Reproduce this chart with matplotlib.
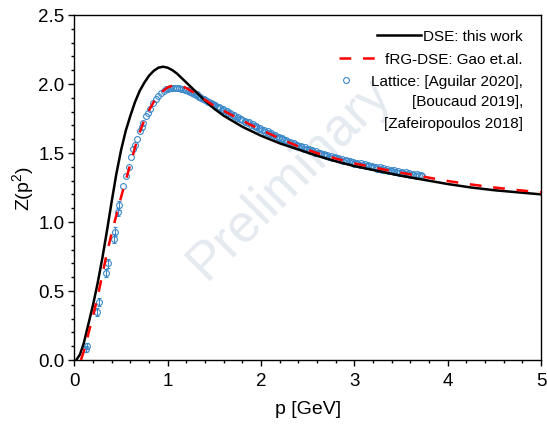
import matplotlib
matplotlib.use('Agg')
import matplotlib.pyplot as plt

plt.rcParams['font.family'] = ['Liberation Sans', 'DejaVu Sans']
plt.rcParams['mathtext.default'] = 'regular'

#------------------
# DSE: this work
dse_p = [0.02, 0.06, 0.10, 0.15, 0.20, 0.25, 0.30, 0.35, 0.40, 0.45, 0.50, 0.55, 0.60, 0.65,
         0.70, 0.75, 0.80, 0.85, 0.90, 0.95, 1.00, 1.05, 1.10, 1.20, 1.30, 1.40, 1.50, 1.60,
         1.80, 2.00, 2.20, 2.40, 2.60, 2.80, 3.00, 3.25, 3.50, 3.75, 4.00, 4.25, 4.50, 4.75, 5.00]
dse_z = [0.00, 0.04, 0.12, 0.26, 0.40, 0.56, 0.74, 0.94, 1.15, 1.35, 1.52, 1.66, 1.77, 1.87,
         1.95, 2.01, 2.06, 2.095, 2.118, 2.125, 2.118, 2.10, 2.075, 2.01, 1.945, 1.88, 1.82, 1.77,
         1.69, 1.625, 1.57, 1.525, 1.48, 1.44, 1.405, 1.37, 1.335, 1.305, 1.275, 1.25, 1.23, 1.215, 1.20]

# fRG-DSE: Gao et.al.
frg_p = [0.07, 0.10, 0.15, 0.20, 0.25, 0.30, 0.35, 0.40, 0.45, 0.50, 0.55, 0.60, 0.65, 0.70,
         0.75, 0.80, 0.85, 0.90, 0.95, 1.00, 1.05, 1.10, 1.15, 1.20, 1.30, 1.40, 1.50, 1.60,
         1.70, 1.80, 1.90, 2.00, 2.20, 2.40, 2.60, 2.80, 3.00, 3.25, 3.50, 3.75, 4.00, 4.25,
         4.50, 4.75, 5.00]
frg_z = [0.00, 0.06, 0.19, 0.32, 0.46, 0.62, 0.78, 0.92, 1.05, 1.18, 1.30, 1.42, 1.54, 1.65,
         1.74, 1.81, 1.87, 1.915, 1.95, 1.975, 1.988, 1.99, 1.985, 1.97, 1.93, 1.885, 1.84, 1.805,
         1.77, 1.735, 1.70, 1.668, 1.605, 1.547, 1.499, 1.46, 1.425, 1.389, 1.357, 1.327, 1.297,
         1.272, 1.25, 1.231, 1.215]

# Lattice: low momentum points (with error bars)
lat_low_p = [0.12, 0.13, 0.24, 0.26, 0.34, 0.36, 0.42, 0.43, 0.47, 0.48]
lat_low_z = [0.08, 0.10, 0.35, 0.42, 0.63, 0.70, 0.88, 0.93, 1.07, 1.12]
lat_low_err = [0.02, 0.02, 0.03, 0.03, 0.03, 0.03, 0.03, 0.03, 0.03, 0.03]

# Lattice: set 1
lat_p = [0.52, 0.55, 0.58, 0.61, 0.63, 0.65, 0.67, 0.70, 0.72, 0.74, 0.77, 0.79, 0.81, 0.84,
         0.87, 0.90, 0.93, 0.96, 0.98,
         1.00, 1.02, 1.04, 1.06, 1.08, 1.10, 1.12, 1.14, 1.16, 1.18, 1.20, 1.22, 1.24, 1.26,
         1.28, 1.30, 1.32, 1.34, 1.36, 1.38, 1.40, 1.42, 1.44, 1.46, 1.48,
         1.50, 1.53, 1.56, 1.59, 1.62, 1.65, 1.68, 1.71, 1.74, 1.77, 1.80, 1.83, 1.86, 1.89,
         1.92, 1.95, 1.98, 2.01, 2.04, 2.07, 2.10, 2.13, 2.16, 2.19, 2.22, 2.25, 2.28, 2.31,
         2.34, 2.37, 2.40, 2.43, 2.46, 2.49, 2.52, 2.55, 2.58, 2.61, 2.64, 2.67, 2.70, 2.73,
         2.76, 2.79, 2.82, 2.85, 2.88, 2.91, 2.94, 2.97, 3.00, 3.03, 3.06, 3.09, 3.12, 3.15,
         3.18, 3.21, 3.24, 3.27, 3.30, 3.33, 3.36, 3.39, 3.42, 3.45, 3.48, 3.51, 3.54, 3.57,
         3.60, 3.63, 3.66, 3.69, 3.72]
lat_z = [1.26, 1.33, 1.40, 1.47, 1.53, 1.56, 1.60, 1.66, 1.69, 1.72, 1.77, 1.79, 1.82, 1.86,
         1.89, 1.915, 1.935, 1.950, 1.960,
         1.965, 1.968, 1.971, 1.972, 1.972, 1.971, 1.969, 1.966, 1.962, 1.958, 1.953, 1.947,
         1.941, 1.934, 1.928, 1.921, 1.914, 1.906, 1.899, 1.891, 1.884, 1.876, 1.869, 1.861, 1.853,
         1.845, 1.833, 1.824, 1.812, 1.801, 1.791, 1.779, 1.770, 1.757, 1.748, 1.737, 1.728,
         1.715, 1.706, 1.694, 1.686, 1.674, 1.667, 1.654, 1.647, 1.635, 1.628, 1.616, 1.610,
         1.598, 1.592, 1.580, 1.575, 1.563, 1.558, 1.547, 1.542, 1.531, 1.527, 1.516, 1.512,
         1.502, 1.499, 1.489, 1.486, 1.477, 1.474, 1.465, 1.463, 1.454, 1.452, 1.443, 1.442,
         1.433, 1.432, 1.423, 1.422, 1.413, 1.413, 1.405, 1.404, 1.396, 1.396, 1.387, 1.387,
         1.379, 1.379, 1.371, 1.371, 1.363, 1.364, 1.356, 1.357, 1.349, 1.350, 1.342, 1.343,
         1.336, 1.337, 1.331]

# Lattice: set 2
lat2_p = [1.23, 1.27, 1.31, 1.35, 1.39, 1.43, 1.47, 1.51, 1.55, 1.59, 1.63, 1.67, 1.71, 1.75,
          1.79, 1.83, 1.87, 1.91, 1.95, 1.99, 2.03, 2.07, 2.11, 2.15, 2.19, 2.23, 2.27, 2.31,
          2.35, 2.39, 2.43, 2.47, 2.51, 2.55, 2.59, 2.63, 2.67, 2.71, 2.75, 2.79, 2.83, 2.87,
          2.91, 2.95, 2.99, 3.03, 3.07, 3.11, 3.15, 3.19, 3.23, 3.27, 3.31, 3.35, 3.39, 3.43,
          3.47, 3.51, 3.55, 3.59, 3.63, 3.67, 3.71]
lat2_z = [1.958, 1.942, 1.926, 1.908, 1.890, 1.872, 1.855, 1.846, 1.832, 1.818, 1.805, 1.791,
          1.777, 1.763, 1.749, 1.735, 1.721, 1.707, 1.694, 1.681, 1.668, 1.656, 1.643, 1.631,
          1.618, 1.606, 1.594, 1.582, 1.571, 1.560, 1.550, 1.540, 1.530, 1.520, 1.511, 1.502,
          1.494, 1.486, 1.478, 1.470, 1.463, 1.456, 1.449, 1.442, 1.436, 1.430, 1.424, 1.418,
          1.412, 1.406, 1.401, 1.395, 1.390, 1.385, 1.380, 1.375, 1.370, 1.365, 1.360, 1.355,
          1.350, 1.346, 1.342]

lat_color = '#3a88c9'

fig = plt.figure(figsize=(5.47, 4.27), dpi=100)
ax = fig.add_axes([0.136, 0.1546, 0.853, 0.808])

# watermark
ax.text(0.46, 0.53, 'Preliminary', transform=ax.transAxes, rotation=45,
        fontsize=38, color='#e4eaf0', ha='center', va='center', zorder=0)

ax.errorbar(lat_low_p, lat_low_z, yerr=lat_low_err, fmt='o', ms=4.2, mfc='none',
            mec=lat_color, mew=0.8, ecolor=lat_color, elinewidth=0.8, capsize=1.5, zorder=2)
ax.plot(lat2_p, lat2_z, 'o', ms=4.2, mfc='none', mec=lat_color, mew=0.8, zorder=2)
lat, = ax.plot(lat_p, lat_z, 'o', ms=4.2, mfc='none', mec=lat_color, mew=0.8, zorder=2)
dse, = ax.plot(dse_p, dse_z, color='black', lw=1.8, zorder=3)
frg, = ax.plot(frg_p, frg_z, color='red', lw=1.8, dashes=(4.7, 4.7), zorder=4)

ax.set_xlim(0, 5)
ax.set_ylim(0, 2.5)
ax.set_xticks([0, 1, 2, 3, 4, 5])
ax.set_yticks([0.0, 0.5, 1.0, 1.5, 2.0, 2.5])
ax.set_xticks([i * 0.2 for i in range(26)], minor=True)
ax.set_yticks([i * 0.1 for i in range(26)], minor=True)
ax.tick_params(which='both', direction='out', top=False, right=False, width=1, labelsize=13.5)
ax.tick_params(which='major', length=4.5)
ax.tick_params(which='minor', length=2.5)
ax.tick_params(axis='x', pad=4)
ax.tick_params(axis='y', pad=2.5)
for s in ax.spines.values():
    s.set_linewidth(1.0)

ax.set_xlabel('p [GeV]', fontsize=14, labelpad=8)
ax.set_ylabel('Z(p$^2$)', fontsize=14, labelpad=2)

# legend, right aligned entries
leg1 = ax.legend([dse], ['DSE: this work'], loc='center right', bbox_to_anchor=(0.961, 0.939),
                 frameon=False, fontsize=11, handlelength=2.85, handletextpad=0.15,
                 borderpad=0, borderaxespad=0)
ax.add_artist(leg1)
leg2 = ax.legend([frg], ['fRG-DSE: Gao et.al.'], loc='center right', bbox_to_anchor=(0.961, 0.872),
                 frameon=False, fontsize=11, handlelength=2.5, handletextpad=0.5,
                 borderpad=0, borderaxespad=0)
ax.add_artist(leg2)
ax.legend([lat], ['Lattice: [Aguilar 2020],'], loc='center right', bbox_to_anchor=(0.961, 0.809),
          frameon=False, fontsize=11, handlelength=1.0, handletextpad=1.1,
          borderpad=0, borderaxespad=0)
ax.text(0.961, 0.751, '[Boucaud 2019],', transform=ax.transAxes, ha='right', va='center', fontsize=11)
ax.text(0.961, 0.687, '[Zafeiropoulos 2018]', transform=ax.transAxes, ha='right', va='center', fontsize=11)

plt.savefig('out.png', dpi=100)
